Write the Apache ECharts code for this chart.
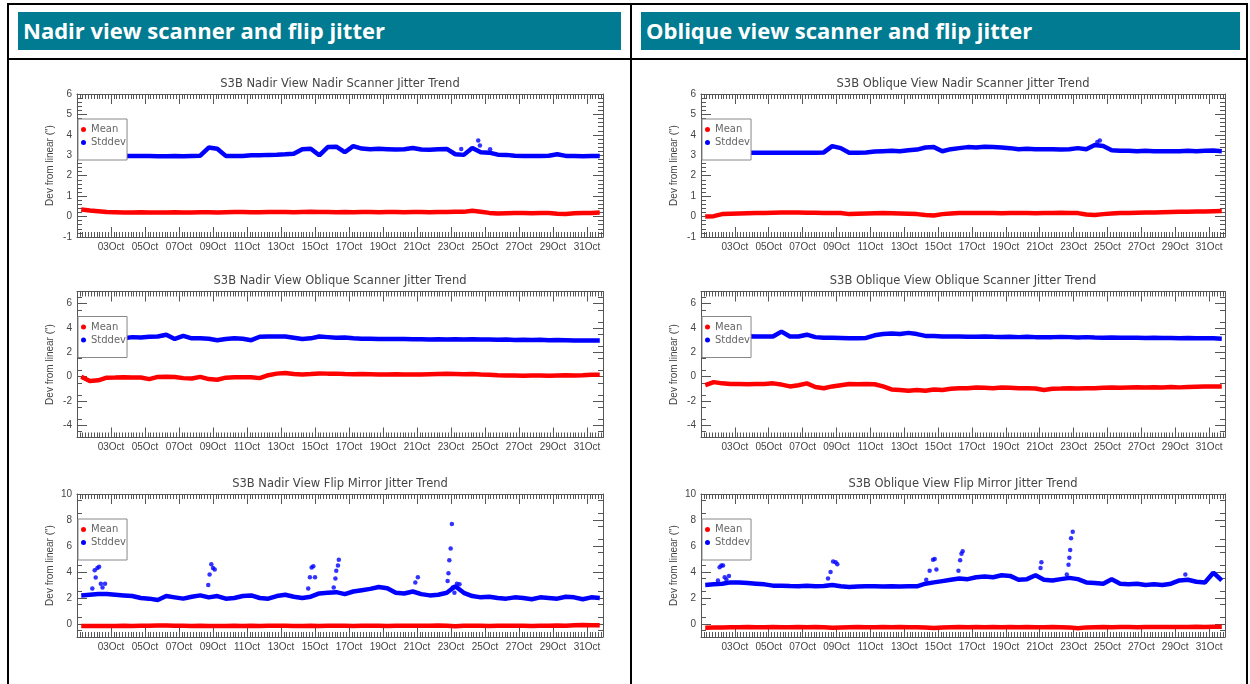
<!DOCTYPE html>
<html>
<head>
<meta charset="utf-8">
<title>S3B scanner and flip jitter</title>
<script src="https://cdn.jsdelivr.net/npm/echarts@6/dist/echarts.min.js"></script>
<style>
  body { margin: 0; width: 1250px; height: 684px; overflow: hidden; background: #fff; position: relative; }
  #chart { position: absolute; left: 0; top: 0; width: 1250px; height: 684px; }
  .rule { position: absolute; background: #000; }
  .head { position: absolute; top: 12px; height: 38px; background: #007b91; color: #fff;
          font: bold 22px "Open Sans", sans-serif; line-height: 37px; padding-left: 5px; box-sizing: border-box; }
</style>
</head>
<body>
<div id="chart"></div>
<div class="rule" style="left:7px;top:3px;width:1241px;height:2px"></div>
<div class="rule" style="left:7px;top:3px;width:2px;height:681px"></div>
<div class="rule" style="left:630px;top:3px;width:2px;height:681px"></div>
<div class="rule" style="left:1246px;top:3px;width:2px;height:681px"></div>
<div class="rule" style="left:7px;top:58px;width:1241px;height:2px"></div>
<div class="head" style="left:18px;width:603px">Nadir view scanner and flip jitter</div>
<div class="head" style="left:641px;width:599px">Oblique view scanner and flip jitter</div>
<script>
// sample times, day of October (1.0 = 01Oct 00:00)
var days = [1.25,1.75,2.25,2.75,3.25,3.75,4.25,4.75,5.25,5.75,6.25,6.75,7.25,7.75,8.25,8.75,
  9.25,9.75,10.25,10.75,11.25,11.75,12.25,12.75,13.25,13.75,14.25,14.75,15.25,15.75,16.25,16.75,
  17.25,17.75,18.25,18.75,19.25,19.75,20.25,20.75,21.25,21.75,22.25,22.75,23.25,23.75,24.25,24.75,
  25.25,25.75,26.25,26.75,27.25,27.75,28.25,28.75,29.25,29.75,30.25,30.75,31.25,31.75];
var tickDays = [3,5,7,9,11,13,15,17,19,21,23,25,27,29,31];
var tickLabels = ['03Oct','05Oct','07Oct','09Oct','11Oct','13Oct','15Oct','17Oct','19Oct',
  '21Oct','23Oct','25Oct','27Oct','29Oct','31Oct'];

// Nadir view, nadir scanner
var nadirNadirMean = [0.35,0.30,0.26,0.22,0.21,0.20,0.20,0.21,0.20,0.20,
  0.20,0.21,0.20,0.20,0.21,0.21,0.20,0.21,0.22,0.22,
  0.21,0.21,0.22,0.22,0.22,0.21,0.22,0.23,0.22,0.22,
  0.21,0.22,0.21,0.22,0.22,0.21,0.22,0.22,0.21,0.22,
  0.22,0.21,0.22,0.22,0.23,0.23,0.28,0.24,0.18,0.15,
  0.16,0.17,0.17,0.16,0.18,0.17,0.14,0.13,0.16,0.17,0.18,0.20];
var nadirNadirStd = [2.98,2.97,2.97,2.96,2.97,2.96,2.96,2.97,2.96,2.95,
  2.95,2.96,2.95,2.97,2.98,3.38,3.32,2.97,2.96,2.97,
  3.00,3.00,3.02,3.03,3.05,3.08,3.30,3.32,3.00,3.40,
  3.42,3.15,3.45,3.33,3.30,3.32,3.30,3.28,3.30,3.36,
  3.28,3.27,3.29,3.31,3.05,3.02,3.36,3.15,3.13,3.03,
  3.02,2.98,2.97,2.96,2.97,2.98,3.05,2.97,2.96,2.95,2.97,2.96];
var nadirNadirOut = [[23.6,3.31],[24.6,3.72],[24.7,3.48],[25.3,3.3]];

// Nadir view, oblique scanner
var nadirOblMean = [0.00,-0.35,-0.30,-0.08,-0.07,-0.05,-0.06,-0.07,-0.20,-0.02,
  0.00,-0.02,-0.12,-0.15,-0.02,-0.20,-0.25,-0.08,-0.05,-0.04,
  -0.05,-0.12,0.12,0.25,0.30,0.22,0.18,0.22,0.27,0.25,
  0.25,0.22,0.20,0.22,0.20,0.18,0.18,0.20,0.18,0.17,
  0.18,0.20,0.22,0.24,0.22,0.20,0.22,0.18,0.15,0.12,
  0.10,0.10,0.08,0.10,0.10,0.08,0.10,0.12,0.10,0.12,0.15,0.15];
var nadirOblStd = [3.20,3.20,3.18,3.20,3.20,3.15,3.25,3.22,3.28,3.30,
  3.45,3.10,3.35,3.15,3.15,3.12,3.00,3.10,3.15,3.12,
  3.00,3.28,3.30,3.30,3.30,3.20,3.10,3.15,3.30,3.25,
  3.20,3.22,3.15,3.12,3.12,3.10,3.10,3.10,3.10,3.08,
  3.08,3.06,3.08,3.05,3.07,3.05,3.07,3.05,3.05,3.03,
  3.05,3.02,3.03,3.02,3.03,3.00,3.02,3.00,2.98,2.98,2.97,2.97];

// Nadir view, flip mirror
var nadirFlipMean = [-0.15,-0.16,-0.15,-0.16,-0.15,-0.14,-0.15,-0.14,-0.13,-0.12,
  -0.12,-0.13,-0.14,-0.15,-0.14,-0.15,-0.16,-0.15,-0.14,-0.15,
  -0.14,-0.15,-0.14,-0.13,-0.14,-0.15,-0.15,-0.14,-0.15,-0.14,
  -0.13,-0.14,-0.15,-0.14,-0.13,-0.14,-0.15,-0.14,-0.14,-0.13,
  -0.14,-0.13,-0.12,-0.13,-0.18,-0.14,-0.13,-0.14,-0.15,-0.14,
  -0.14,-0.13,-0.14,-0.15,-0.14,-0.13,-0.12,-0.13,-0.10,-0.08,-0.10,-0.10];
var nadirFlipStd = [2.20,2.25,2.30,2.30,2.25,2.20,2.15,2.00,1.95,1.85,
  2.15,2.05,1.95,2.10,2.20,2.05,2.15,1.95,2.00,2.15,
  2.20,2.00,1.95,2.15,2.25,2.10,2.00,2.10,2.35,2.40,
  2.45,2.30,2.50,2.60,2.70,2.85,2.75,2.40,2.35,2.50,
  2.30,2.20,2.25,2.40,2.90,2.40,2.15,2.05,2.10,2.00,
  1.95,2.05,2.00,1.90,2.05,2.00,1.95,2.10,2.05,1.90,2.05,2.00];
var nadirFlipOut = [[1.9,2.74],[2.04,4.14],[2.1,3.57],[2.2,4.3],[2.3,4.4],[2.4,3.1],[2.5,2.8],
  [2.65,3.1],[8.72,3.0],[8.8,3.8],[8.9,4.6],[9.0,4.3],[9.1,4.2],[14.6,2.74],[14.7,3.6],
  [14.8,4.35],[14.9,4.45],[15.0,3.6],[16.1,2.8],[16.2,3.5],[16.25,4.1],[16.35,4.5],[16.4,4.95],
  [20.9,3.2],[21.05,3.6],[22.8,3.3],[22.85,3.9],[22.9,4.9],[22.98,5.8],[23.05,7.7],[23.1,2.8],
  [23.2,2.4],[23.35,3.1],[23.5,3.05]];

// Oblique view, nadir scanner
var oblNadirMean = [0.00,0.02,0.12,0.14,0.15,0.16,0.17,0.18,0.19,0.20,
  0.20,0.20,0.19,0.19,0.18,0.18,0.17,0.12,0.14,0.15,
  0.16,0.17,0.16,0.15,0.14,0.12,0.08,0.05,0.12,0.15,
  0.17,0.18,0.17,0.18,0.17,0.16,0.17,0.18,0.17,0.16,
  0.17,0.18,0.19,0.18,0.17,0.10,0.08,0.12,0.15,0.17,
  0.18,0.19,0.20,0.20,0.21,0.22,0.23,0.24,0.25,0.25,0.26,0.27];
var oblNadirStd = [3.15,3.15,3.14,3.14,3.13,3.12,3.13,3.12,3.12,3.13,
  3.12,3.12,3.13,3.12,3.14,3.45,3.35,3.12,3.13,3.14,
  3.18,3.20,3.22,3.20,3.25,3.28,3.38,3.40,3.20,3.30,
  3.35,3.40,3.38,3.42,3.40,3.38,3.35,3.30,3.32,3.30,
  3.30,3.30,3.28,3.30,3.35,3.30,3.50,3.45,3.25,3.22,
  3.22,3.20,3.22,3.20,3.20,3.20,3.20,3.22,3.20,3.22,3.23,3.20];
var oblNadirOut = [[24.4,3.65],[24.55,3.72]];

// Oblique view, oblique scanner
var oblOblMean = [-0.70,-0.45,-0.55,-0.60,-0.60,-0.62,-0.60,-0.60,-0.55,-0.65,
  -0.80,-0.70,-0.55,-0.85,-0.95,-0.80,-0.70,-0.60,-0.62,-0.60,
  -0.62,-0.80,-1.05,-1.10,-1.15,-1.10,-1.15,-1.05,-1.10,-1.00,
  -0.95,-0.95,-0.90,-0.92,-0.95,-0.90,-0.92,-0.95,-0.95,-0.98,
  -1.10,-1.00,-0.98,-0.95,-0.98,-0.95,-0.95,-0.92,-0.90,-0.92,
  -0.90,-0.88,-0.90,-0.88,-0.90,-0.85,-0.88,-0.85,-0.82,-0.80,-0.80,-0.80];
var oblOblStd = [3.30,3.30,3.28,3.30,3.30,3.32,3.30,3.30,3.30,3.70,
  3.30,3.30,3.45,3.25,3.20,3.20,3.18,3.15,3.15,3.18,
  3.40,3.50,3.55,3.50,3.60,3.50,3.35,3.35,3.30,3.30,
  3.30,3.28,3.28,3.30,3.28,3.27,3.28,3.25,3.28,3.25,
  3.25,3.25,3.27,3.25,3.22,3.25,3.22,3.20,3.22,3.20,
  3.20,3.20,3.18,3.20,3.18,3.18,3.15,3.18,3.15,3.15,3.15,3.12];

// Oblique view, flip mirror
var oblFlipMean = [-0.28,-0.27,-0.26,-0.25,-0.25,-0.24,-0.25,-0.25,-0.24,-0.25,
  -0.25,-0.24,-0.25,-0.24,-0.25,-0.28,-0.26,-0.25,-0.24,-0.25,
  -0.25,-0.24,-0.25,-0.24,-0.25,-0.25,-0.26,-0.30,-0.26,-0.25,
  -0.24,-0.25,-0.24,-0.25,-0.24,-0.25,-0.24,-0.25,-0.24,-0.25,
  -0.25,-0.24,-0.25,-0.26,-0.33,-0.26,-0.25,-0.24,-0.25,-0.24,
  -0.24,-0.25,-0.24,-0.23,-0.24,-0.23,-0.24,-0.23,-0.22,-0.23,-0.22,-0.22];
var oblFlipStd = [3.00,3.05,3.10,3.20,3.20,3.15,3.10,3.05,2.95,2.95,
  2.92,2.90,2.95,2.90,2.92,3.00,2.90,2.85,2.88,2.90,
  2.90,2.88,2.90,2.88,2.90,2.90,3.10,3.20,3.30,3.40,
  3.50,3.45,3.60,3.65,3.60,3.75,3.70,3.40,3.45,3.75,
  3.40,3.35,3.45,3.55,3.45,3.20,3.15,3.10,3.45,3.10,
  3.05,3.10,3.00,3.05,3.00,3.10,3.35,3.40,3.25,3.20,3.95,3.35];
var oblFlipOut = [[2.0,3.35],[2.1,4.36],[2.2,4.5],[2.3,4.5],[2.4,3.6],[2.5,3.4],[2.65,3.7],
  [8.5,3.5],[8.65,4.0],[8.8,4.8],[8.95,4.75],[9.05,4.6],[14.3,3.4],[14.5,4.1],[14.7,4.95],
  [14.8,5.0],[14.9,4.2],[16.2,4.1],[16.3,4.9],[16.38,5.4],[16.45,5.6],[21.05,4.3],[21.1,4.75],
  [22.6,3.8],[22.7,4.55],[22.75,5.1],[22.8,5.7],[22.85,6.6],[22.95,7.1],[29.6,3.8]];

// y scales (value range, labelled ticks, minor split)
var yScan = { min: -1, max: 6, interval: 1, ticks: [-1,0,1,2,3,4,5,6], minor: 5 };
var yObl  = { min: -5, max: 7, interval: 2, ticks: [-4,-2,0,2,4,6], minor: 4 };
var yFlip = { min: -1, max: 10, interval: 2, ticks: [0,2,4,6,8,10], minor: 4 };

var plots = [
  { left: 77, width: 526, top: 94, height: 143, y: yScan, title: 'S3B Nadir View Nadir Scanner Jitter Trend',
    mean: nadirNadirMean, std: nadirNadirStd, out: nadirNadirOut },
  { left: 77, width: 526, top: 291.5, height: 146, y: yObl, title: 'S3B Nadir View Oblique Scanner Jitter Trend',
    mean: nadirOblMean, std: nadirOblStd, out: [] },
  { left: 77, width: 526, top: 494, height: 143, y: yFlip, title: 'S3B Nadir View Flip Mirror Jitter Trend',
    mean: nadirFlipMean, std: nadirFlipStd, out: nadirFlipOut },
  { left: 701, width: 524, top: 94, height: 143, y: yScan, title: 'S3B Oblique View Nadir Scanner Jitter Trend',
    mean: oblNadirMean, std: oblNadirStd, out: oblNadirOut },
  { left: 701, width: 524, top: 291.5, height: 146, y: yObl, title: 'S3B Oblique View Oblique Scanner Jitter Trend',
    mean: oblOblMean, std: oblOblStd, out: [] },
  { left: 701, width: 524, top: 494, height: 143, y: yFlip, title: 'S3B Oblique View Flip Mirror Jitter Trend',
    mean: oblFlipMean, std: oblFlipStd, out: oblFlipOut }
];

var axisColor = '#555';
var textColor = '#444';
var labelFont = 'Liberation Sans';

function pairs(arr) {
  return days.map(function (d, i) { return [d, arr[i]]; });
}

function xAxisFor(k, pos) {
  return {
    type: 'value', gridIndex: k, position: pos, min: 1, max: 31.94, interval: 2,
    axisLine: { onZero: false, lineStyle: { color: axisColor, width: 1 } },
    axisTick: { inside: true, length: 10, customValues: tickDays, lineStyle: { color: axisColor } },
    minorTick: { show: true, splitNumber: 12, length: 5, lineStyle: { color: axisColor } },
    axisLabel: {
      show: pos === 'bottom', customValues: tickDays, margin: 5,
      color: textColor, fontFamily: labelFont, fontSize: 10,
      formatter: function (v) { return tickLabels[tickDays.indexOf(v)]; }
    },
    splitLine: { show: false }
  };
}

function yAxisFor(k, pos, s) {
  return {
    type: 'value', gridIndex: k, position: pos, min: s.min, max: s.max, interval: s.interval,
    name: pos === 'left' ? 'Dev from linear (")' : '',
    nameLocation: 'middle', nameGap: 22,
    nameTextStyle: { color: textColor, fontFamily: labelFont, fontSize: 10 },
    axisLine: { onZero: false, lineStyle: { color: axisColor, width: 1 } },
    axisTick: { inside: true, length: 10, customValues: s.ticks, lineStyle: { color: axisColor } },
    minorTick: { show: true, splitNumber: s.minor, length: 5, lineStyle: { color: axisColor } },
    axisLabel: { show: pos === 'left', customValues: s.ticks, margin: 5,
      color: textColor, fontFamily: labelFont, fontSize: 10 },
    splitLine: { show: false }
  };
}

var option = {
  animation: false,
  grid: [], xAxis: [], yAxis: [], title: [], legend: [], series: []
};

plots.forEach(function (p, k) {
  option.grid.push({ left: p.left, top: p.top, width: p.width, height: p.height, containLabel: false });
  option.xAxis.push(xAxisFor(k, 'bottom'), xAxisFor(k, 'top'));
  option.yAxis.push(yAxisFor(k, 'left', p.y), yAxisFor(k, 'right', p.y));
  option.title.push({
    text: p.title, left: p.left + p.width / 2, top: p.top - 16, textAlign: 'center', padding: 0,
    textStyle: { color: textColor, fontFamily: 'DejaVu Sans', fontSize: 11.5, fontWeight: 'normal' }
  });
  option.legend.push({
    left: p.left + 1, top: p.top + 25, orient: 'vertical', selectedMode: false,
    data: ['Mean', 'Stddev'], icon: 'circle', itemWidth: 5, itemHeight: 5, itemGap: 2,
    padding: [5, 1, 12, 3], backgroundColor: '#fff', borderColor: '#888', borderWidth: 1,
    textStyle: { color: '#666', fontFamily: 'DejaVu Sans', fontSize: 10, lineHeight: 11 }
  });
  option.series.push({
    name: 'Mean', type: 'line', xAxisIndex: 2 * k, yAxisIndex: 2 * k, data: pairs(p.mean),
    symbol: 'none', color: '#ff0000', lineStyle: { width: 4.5, color: '#ff0000' }
  });
  option.series.push({
    name: 'Stddev', type: 'line', xAxisIndex: 2 * k, yAxisIndex: 2 * k, data: pairs(p.std),
    symbol: 'none', color: '#0000ff', lineStyle: { width: 4.5, color: '#0000ff' }
  });
  if (p.out.length) {
    option.series.push({
      name: 'Stddev', type: 'scatter', xAxisIndex: 2 * k, yAxisIndex: 2 * k, data: p.out,
      symbolSize: 4.5, itemStyle: { color: '#0000ff' }
    });
  }
});

var chart = echarts.init(document.getElementById('chart'));
chart.setOption(option);
</script>
</body>
</html>
